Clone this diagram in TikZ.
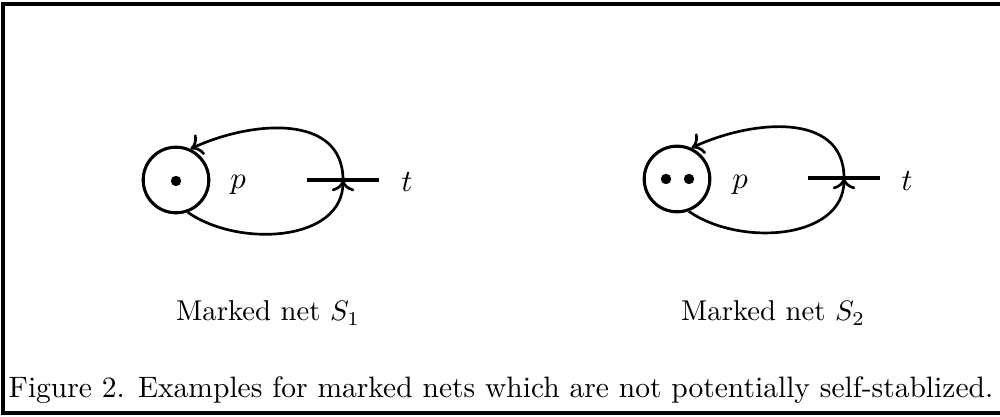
\documentclass[tikz,border=0pt]{standalone}
\usepackage{amsmath, amssymb}
\usepackage{tikz}
\usetikzlibrary{arrows.meta, positioning, calc}
\tikzset{
  place/.style={circle, draw=black, line width=1.1pt,
                inner sep=0pt, minimum size=0.82cm},
  token/.style={circle, fill=black, inner sep=0pt, minimum size=0.13cm},
  trans/.style={rectangle, fill=black, inner sep=0pt,
                minimum width=0.9cm, minimum height=1.2pt},
  arc/.style={line width=0.95pt, -{To[length=4pt, width=8pt]}},
  frame/.style={line width=1.4pt},
  lbl/.style={font=\fontsize{10.8}{13}\selectfont},
}

\begin{document}
\begin{tikzpicture}[x=0.0125cm, y=-0.0125cm]
    \useasboundingbox (0,0) rectangle (1000,417);
    % Frame
    \draw[frame] (1004,4) -- (3,4) -- (3,413) -- (1004,413);
    % Net S1
    \node[place] (p1) at (176,180) {};
    \node[token] (k1) at (176,181) {};
    \node[trans] (t1) at (343,180) {};
    \node[lbl] (lp1) at (238,185) {$p$};
    \node[lbl] (lt1) at (407,182) {$t$};
    \draw[arc] (t1.center) to[out=90, in=25, looseness=1.1] (p1.65);
    \draw[arc] (p1.-70) to[out=-35, in=-90] (t1.center);
    % Net S2
    \node[place] (p2) at (677,179) {};
    \node[token] (k2a) at (666,179) {};
    \node[token] (k2b) at (689,179) {};
    \node[trans] (t2) at (844,178) {};
    \node[lbl] (lp2) at (740,185) {$p$};
    \node[lbl] (lt2) at (907,181) {$t$};
    \draw[arc] (t2.center) to[out=90, in=25, looseness=1.1] (p2.65);
    \draw[arc] (p2.-70) to[out=-35, in=-90] (t2.center);
    % Labels
    \node[font=\fontsize{10.2}{12}\selectfont] (s1) at (268,313) {Marked net $S_1$};
    \node[font=\fontsize{10.2}{12}\selectfont] (s2) at (773,313) {Marked net $S_2$};
    \node[font=\fontsize{10.5}{13}\selectfont] (cap) at (501,390)
      {Figure 2. Examples for marked nets which are not potentially self-stablized.};
\end{tikzpicture}
\end{document}
